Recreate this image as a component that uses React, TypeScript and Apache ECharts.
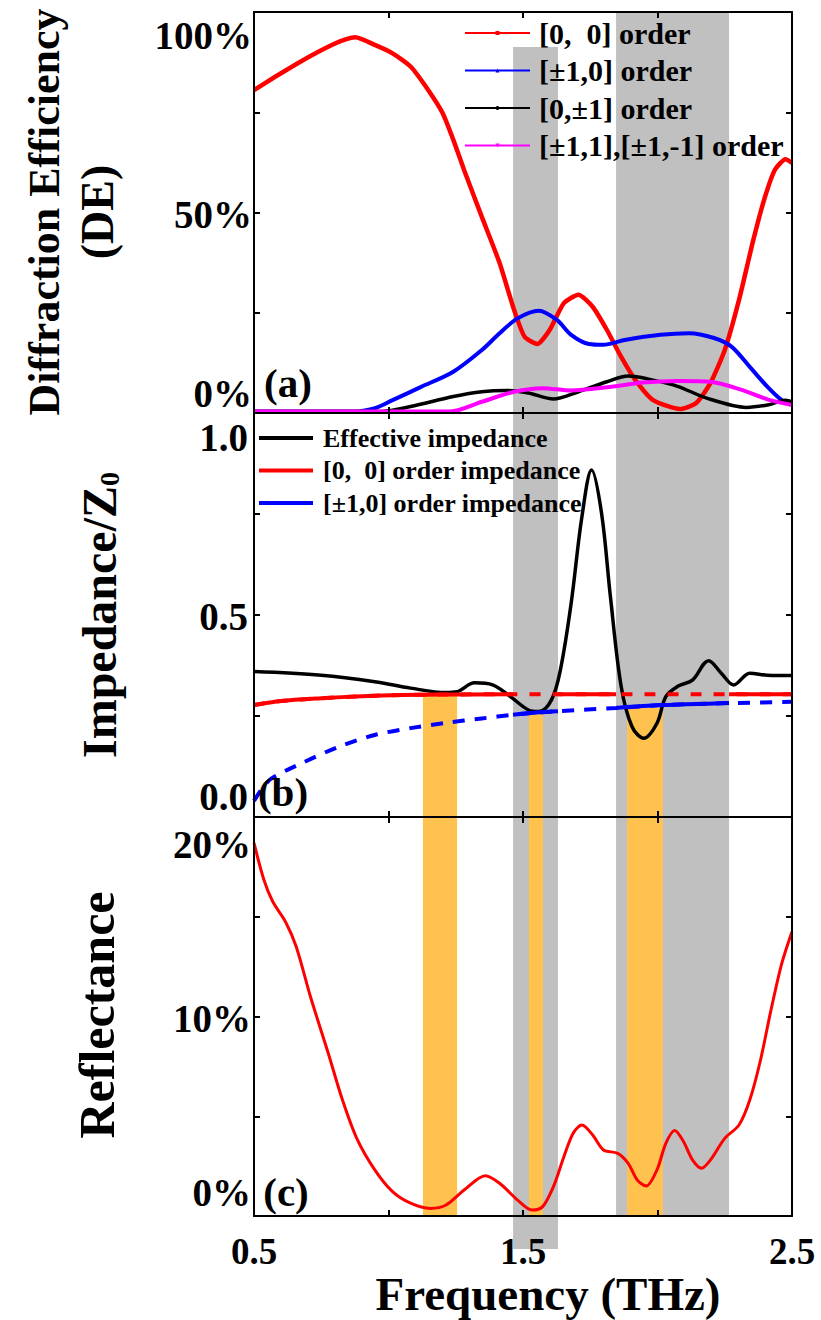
import React, { useEffect, useRef } from 'react';
import * as echarts from 'echarts';

const FONT = "'Liberation Serif', 'Times New Roman', Times, serif";
const GRAY = '#C0C0C0';
const ORANGE = '#FFC24F';

// ---- x axis (THz) ----
const X_MIN = 0.5;
const X_MAX = 2.5;
const X_STEP = 0.5;
const X_LABEL_VALUES = [0.5, 1.5, 2.5];

// ---- shaded bands (THz) ----
const GRAY_BANDS = [[1.463, 1.63], [1.846, 2.266]];
const GRAY_TOPS_A = [0.913, 1.0];
const ORANGE_BANDS = [[1.128, 1.255], [1.522, 1.574], [1.887, 2.02]];
const ORANGE_TOPS_B = [0.302, 0.257, 0.27];

// ---- panel (a) diffraction efficiency ----
const A_NAMES = ['[0,  0] order', '[±1,0] order', '[0,±1] order', '[±1,1],[±1,-1] order'];
const A_TICK_LABELS = ['0%', '50%', '100%'];
const RED_A_F = [0.5, 0.876, 0.949, 1.015, 1.082, 1.148, 1.201, 1.241, 1.281, 1.347, 1.413, 1.467, 1.506, 1.553, 1.599, 1.652, 1.706, 1.759, 1.812, 1.865, 1.918, 1.984, 2.084, 2.144, 2.197, 2.25, 2.303, 2.356, 2.396, 2.436, 2.476, 2.5];
const RED_A_V = [0.805, 0.937, 0.918, 0.897, 0.864, 0.805, 0.748, 0.681, 0.606, 0.489, 0.374, 0.257, 0.19, 0.172, 0.207, 0.274, 0.295, 0.265, 0.207, 0.14, 0.082, 0.032, 0.01, 0.025, 0.075, 0.157, 0.282, 0.431, 0.531, 0.606, 0.633, 0.624];
const BLUE_A_F = [0.5, 0.876, 0.95, 1.015, 1.121, 1.241, 1.347, 1.413, 1.48, 1.559, 1.626, 1.679, 1.745, 1.798, 1.878, 2.011, 2.117, 2.21, 2.276, 2.343, 2.409, 2.462, 2.5];
const BLUE_A_V = [0.004, 0.004, 0.012, 0.032, 0.065, 0.103, 0.157, 0.199, 0.236, 0.255, 0.232, 0.195, 0.172, 0.17, 0.182, 0.195, 0.199, 0.187, 0.165, 0.115, 0.065, 0.032, 0.022];
const BLACK_A_F = [0.5, 0.975, 1.082, 1.241, 1.347, 1.44, 1.52, 1.613, 1.706, 1.812, 1.891, 1.984, 2.077, 2.183, 2.33, 2.409, 2.476, 2.5];
const BLACK_A_V = [0.004, 0.004, 0.016, 0.041, 0.053, 0.056, 0.05, 0.035, 0.053, 0.078, 0.092, 0.082, 0.066, 0.037, 0.014, 0.02, 0.032, 0.028];
const MAG_A_F = [0.5, 1.228, 1.347, 1.467, 1.573, 1.679, 1.812, 1.945, 2.077, 2.197, 2.316, 2.409, 2.5];
const MAG_A_V = [0.004, 0.004, 0.028, 0.053, 0.062, 0.056, 0.064, 0.076, 0.08, 0.078, 0.057, 0.034, 0.02];

// ---- panel (b) impedance / Z0 ----
const B_NAMES = ['Effective impedance', '[0,  0] order impedance', '[±1,0] order impedance'];
const B_TICK_LABELS = ['0.0', '0.5', '1.0'];
const EFF_F = [0.5, 0.75, 0.949, 1.082, 1.214, 1.254, 1.32, 1.387, 1.453, 1.52, 1.559, 1.606, 1.639, 1.679, 1.719, 1.755, 1.792, 1.825, 1.865, 1.905, 1.949, 1.998, 2.031, 2.077, 2.13, 2.19, 2.237, 2.283, 2.343, 2.409, 2.5];
const EFF_V = [0.36, 0.351, 0.335, 0.319, 0.308, 0.31, 0.332, 0.327, 0.298, 0.265, 0.261, 0.29, 0.364, 0.529, 0.743, 0.859, 0.752, 0.545, 0.323, 0.224, 0.195, 0.232, 0.298, 0.324, 0.339, 0.387, 0.356, 0.327, 0.356, 0.351, 0.35];
const RED_IMP_F = [0.5, 0.6, 0.75, 0.9, 1.05, 1.2, 1.463, 1.63, 1.846, 2.266, 2.5];
const RED_IMP_V = [0.277, 0.287, 0.294, 0.299, 0.302, 0.303, 0.304, 0.304, 0.304, 0.304, 0.304];
const BLUE_IMP_F = [0.5, 0.53, 0.564, 0.683, 0.816, 0.949, 1.082, 1.214, 1.347, 1.463, 1.559, 1.63, 1.846, 2.011, 2.21, 2.266, 2.5];
const BLUE_IMP_V = [0.04, 0.07, 0.095, 0.135, 0.174, 0.203, 0.22, 0.233, 0.244, 0.253, 0.259, 0.262, 0.27, 0.277, 0.281, 0.282, 0.285];
const RED_SOLID_RANGES = [[0.5, 1.463], [1.63, 1.846], [2.266, 2.5]];
const BLUE_SOLID_RANGES = [[1.463, 1.63], [1.846, 2.266]];

// ---- panel (c) reflectance (%) ----
const C_TICK_LABELS = ['0%', '10%', '20%'];
const REFL_F = [0.5, 0.537, 0.57, 0.617, 0.657, 0.71, 0.776, 0.829, 0.882, 0.949, 1.015, 1.082, 1.155, 1.214, 1.281, 1.36, 1.413, 1.48, 1.533, 1.573, 1.613, 1.652, 1.686, 1.719, 1.759, 1.799, 1.852, 1.891, 1.925, 1.958, 1.998, 2.031, 2.064, 2.097, 2.13, 2.164, 2.197, 2.25, 2.303, 2.343, 2.383, 2.422, 2.462, 2.5];
const REFL_V = [18.7, 16.84, 15.75, 14.75, 13.5, 10.99, 8.16, 5.81, 3.89, 2.31, 1.22, 0.64, 0.38, 0.55, 1.3, 2.02, 1.64, 0.8, 0.3, 0.47, 1.47, 2.97, 4.14, 4.56, 4.06, 3.31, 3.14, 2.64, 1.8, 1.5, 2.31, 3.64, 4.28, 3.72, 2.81, 2.39, 2.81, 3.89, 4.56, 5.81, 7.82, 10.33, 12.66, 14.25];

const zip = (f: number[], v: number[]) => f.map((x, i) => [x, v[i]]);
const inRange = (f: number[], v: number[], lo: number, hi: number) =>
  zip(f, v).filter((p) => p[0] >= lo - 1e-9 && p[0] <= hi + 1e-9);

// layout
const GL = 254;
const GW = 538;
const GRIDS = [
  { top: 12, height: 401 },
  { top: 413, height: 404 },
  { top: 817, height: 399 },
  { top: 1216, height: 33 },
];
const TICK_FONT = 39;

const lineSt = { color: '#000', width: 2 };

function xAxisPair(gridIndex: number, labels: boolean) {
  const base: any = {
    type: 'value', gridIndex, min: X_MIN, max: X_MAX, interval: X_STEP, z: 10,
    axisLine: { show: true, onZero: false, lineStyle: lineSt },
    axisTick: { show: true, inside: true, length: 6, lineStyle: lineSt },
    splitLine: { show: false },
    axisLabel: { show: false },
  };
  const bottom = { ...base, position: 'bottom' };
  if (labels) {
    bottom.axisLabel = {
      show: true, customValues: X_LABEL_VALUES, formatter: (v: number) => v.toFixed(1),
      fontSize: 37, fontWeight: 'bold', fontFamily: FONT, color: '#000', margin: 17,
    };
  }
  const top = { ...base, position: 'top' };
  return [bottom, top];
}

function yAxisTriple(gridIndex: number, max: number, interval: number, lmin: number, lmax: number, lvals: number[], ltexts: string[], margin: number) {
  const base: any = {
    type: 'value', gridIndex, min: 0, max, interval, z: 10,
    axisLine: { show: true, onZero: false, lineStyle: lineSt },
    axisTick: { show: true, inside: true, length: 6, lineStyle: lineSt },
    splitLine: { show: false },
    axisLabel: { show: false },
  };
  return [
    { ...base, position: 'left' },
    { ...base, position: 'right' },
    {
      type: 'value', gridIndex, min: lmin, max: lmax, position: 'left', z: 10,
      axisLine: { show: false }, axisTick: { show: false }, splitLine: { show: false },
      axisLabel: {
        show: true, customValues: lvals,
        formatter: (v: number) => ltexts[lvals.findIndex((x) => Math.abs(x - v) < 1e-6)] ?? '',
        fontSize: TICK_FONT, fontWeight: 'bold', fontFamily: FONT, color: '#000', margin,
      },
    },
  ];
}

function bandSeries(xi: number, yi: number, color: string, data: any[]) {
  return {
    type: 'line', xAxisIndex: xi, yAxisIndex: yi, data: [], silent: true, z: 1,
    markArea: { silent: true, itemStyle: { color, borderWidth: 0 }, data },
  };
}

function buildOption(): any {
  const xAxis = [
    ...xAxisPair(0, false),
    ...xAxisPair(1, false),
    ...xAxisPair(2, true),
    { type: 'value', gridIndex: 3, min: X_MIN, max: X_MAX, show: false },
  ];
  const yAxis = [
    ...yAxisTriple(0, 1, 0.25, -0.056, 1.067, [0, 0.5, 1], A_TICK_LABELS, 2),
    ...yAxisTriple(1, 1, 0.25, -0.0556, 1.0667, [0, 0.5, 1], B_TICK_LABELS, 6),
    ...yAxisTriple(2, 20, 5, -1.322, 21.609, [0, 10, 20], C_TICK_LABELS, 3),
    { type: 'value', gridIndex: 3, min: 0, max: 1, show: false },
  ];

  const fullBands = (bands: number[][]) => bands.map((b) => [{ xAxis: b[0] }, { xAxis: b[1] }]);

  const lineBase = (name: string, xi: number, yi: number, color: string, width: number, data: any[], extra: any = {}) => ({
    name, type: 'line', xAxisIndex: xi, yAxisIndex: yi, data, color,
    showSymbol: false, smooth: 0.3, z: 3,
    lineStyle: { color, width, type: 'solid' },
    itemStyle: { color },
    emphasis: { disabled: true },
    ...extra,
  });

  const series: any[] = [
    // panel a
    bandSeries(0, 0, GRAY, GRAY_BANDS.map((b, i) => [{ xAxis: b[0], yAxis: 0 }, { xAxis: b[1], yAxis: GRAY_TOPS_A[i] }])),
    lineBase(A_NAMES[0], 0, 0, '#FF0000', 4.5, zip(RED_A_F, RED_A_V), { symbol: 'rect', smooth: 0.2 }),
    lineBase(A_NAMES[1], 0, 0, '#0000FF', 4, zip(BLUE_A_F, BLUE_A_V), { symbol: 'triangle' }),
    lineBase(A_NAMES[2], 0, 0, '#000000', 3.5, zip(BLACK_A_F, BLACK_A_V), { symbol: 'circle' }),
    lineBase(A_NAMES[3], 0, 0, '#FF00FF', 4, zip(MAG_A_F, MAG_A_V), { symbol: 'triangle', symbolRotate: 180 }),
    // panel b
    bandSeries(2, 3, GRAY, fullBands(GRAY_BANDS)),
    bandSeries(2, 3, ORANGE, ORANGE_BANDS.map((b, i) => [{ xAxis: b[0], yAxis: 0 }, { xAxis: b[1], yAxis: ORANGE_TOPS_B[i] }])),
    lineBase(B_NAMES[0], 2, 3, '#000000', 3.5, zip(EFF_F, EFF_V), { symbol: 'none', smooth: 0.35 }),
    ...RED_SOLID_RANGES.map((r) => lineBase(B_NAMES[1], 2, 3, '#FF0000', 4, inRange(RED_IMP_F, RED_IMP_V, r[0], r[1]), { symbol: 'none' })),
    lineBase(B_NAMES[1], 2, 3, '#FF0000', 4, zip(RED_IMP_F, RED_IMP_V), { symbol: 'none', lineStyle: { color: '#FF0000', width: 4, type: [11, 12] } }),
    ...BLUE_SOLID_RANGES.map((r) => lineBase(B_NAMES[2], 2, 3, '#0000FF', 4, inRange(BLUE_IMP_F, BLUE_IMP_V, r[0], r[1]), { symbol: 'none' })),
    lineBase(B_NAMES[2], 2, 3, '#0000FF', 4, zip(BLUE_IMP_F, BLUE_IMP_V), { symbol: 'none', lineStyle: { color: '#0000FF', width: 4, type: [12, 10] } }),
    // panel c
    bandSeries(4, 6, GRAY, fullBands(GRAY_BANDS)),
    bandSeries(4, 6, ORANGE, fullBands(ORANGE_BANDS)),
    lineBase('Reflectance', 4, 6, '#FF0000', 3, zip(REFL_F, REFL_V), { symbol: 'none' }),
    // extension of first gray band below panel c
    bandSeries(6, 9, GRAY, fullBands([GRAY_BANDS[0]])),
  ];

  const txt = (text: string, x: number, y: number, size: number, rotation = 0) => ({
    type: 'text', x, y, rotation, z: 20,
    style: {
      text, fill: '#000', fontSize: size, fontWeight: 'bold', fontFamily: FONT, lineHeight: size,
      align: 'center', verticalAlign: 'middle', textAlign: 'center', textVerticalAlign: 'middle',
    },
  });

  return {
    animation: false,
    backgroundColor: '#fff',
    grid: GRIDS.map((g) => ({ left: GL, width: GW, top: g.top, height: g.height, containLabel: false })),
    xAxis,
    yAxis,
    legend: [
      {
        orient: 'vertical', left: 464, top: 18, padding: 0, itemGap: 7.5,
        itemWidth: 65, itemHeight: 5, selectedMode: false, z: 15,
        data: A_NAMES,
        textStyle: { fontFamily: FONT, fontSize: 30, fontWeight: 'bold', color: '#000', lineHeight: 30, padding: [0, 0, 0, 4] },
      },
      {
        orient: 'vertical', left: 259, top: 425, padding: 0, itemGap: 6.5,
        itemWidth: 54, itemHeight: 4, icon: 'rect', selectedMode: false, z: 15,
        data: B_NAMES,
        textStyle: { fontFamily: FONT, fontSize: 26, fontWeight: 'bold', color: '#000', lineHeight: 26, padding: [0, 0, 0, 5] },
      },
    ],
    series,
    graphic: [
      txt('(a)', 288, 383, 41),
      txt('(b)', 283, 792, 41),
      txt('(c)', 286, 1192, 41),
      txt('Diffraction Efficiency', 44, 212, 44, Math.PI / 2),
      txt('(DE)', 97, 212, 46, Math.PI / 2),
      {
        type: 'text', x: 97, y: 615, rotation: Math.PI / 2, z: 20,
        style: {
          text: '{m|Impedance/Z}{s|0}',
          align: 'center', verticalAlign: 'middle', textAlign: 'center', textVerticalAlign: 'middle',
          rich: {
            m: { fontSize: 48, fontWeight: 'bold', fontFamily: FONT, fill: '#000', lineHeight: 52, verticalAlign: 'bottom' },
            s: { fontSize: 28, fontWeight: 'bold', fontFamily: FONT, fill: '#000', lineHeight: 22, verticalAlign: 'bottom' },
          },
        },
      },
      txt('Reflectance', 97, 1015, 50, Math.PI / 2),
      txt('Frequency (THz)', 548, 1294, 47),
    ],
  };
}

export default function App() {
  const ref = useRef<HTMLDivElement>(null);
  useEffect(() => {
    document.body.style.margin = '0';
    const chart = echarts.init(ref.current as HTMLDivElement, null, { renderer: 'svg' });
    chart.setOption(buildOption());
    return () => chart.dispose();
  }, []);
  return <div ref={ref} style={{ width: 821, height: 1320 }} />;
}
